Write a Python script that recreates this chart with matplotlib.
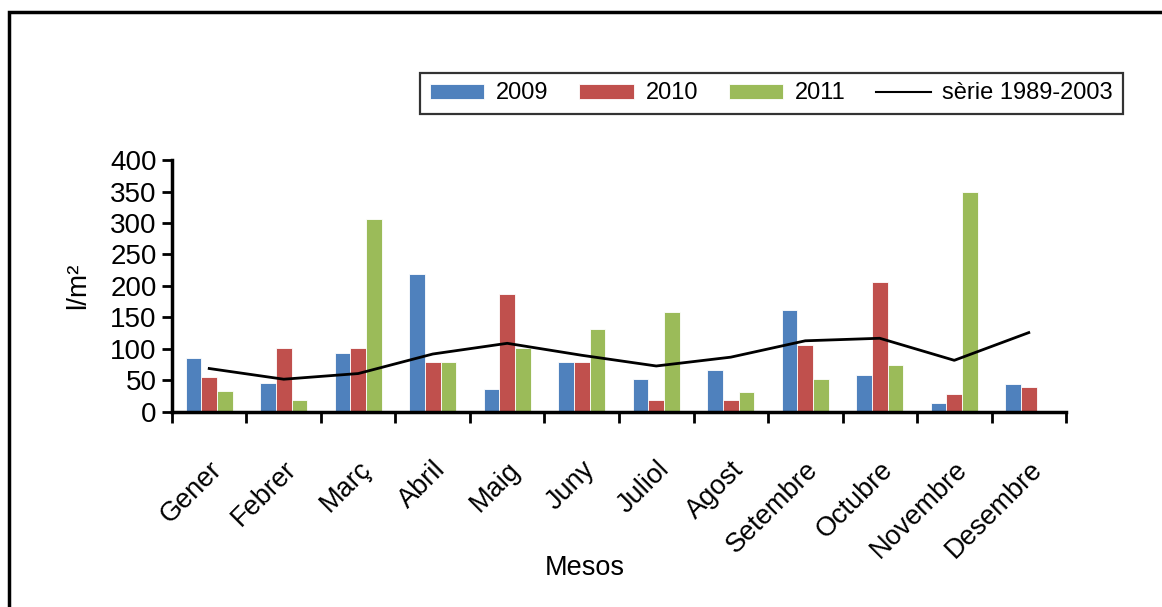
import numpy as np
import matplotlib
matplotlib.use("Agg")
import matplotlib.pyplot as plt
from matplotlib.patches import Rectangle

plt.rcParams['font.family'] = ['Liberation Sans Narrow', 'Liberation Sans', 'DejaVu Sans']

## data (l/m2 per month)
mesos = ["Gener", "Febrer", "Març", "Abril", "Maig", "Juny", "Juliol",
         "Agost", "Setembre", "Octubre", "Novembre", "Desembre"]
pluja_2009 = [85, 46, 93, 219, 36, 80, 53, 66, 162, 58, 14, 45]
pluja_2010 = [55, 101, 101, 80, 188, 80, 19, 19, 106, 206, 28, 40]
pluja_2011 = [33, 19, 306, 80, 101, 132, 158, 31, 53, 75, 350, np.nan]
serie_1989_2003 = [69, 52, 61, 92, 109, 90, 73, 87, 113, 117, 82, 126]
y_ticks = [0, 50, 100, 150, 200, 250, 300, 350, 400]


def plot_pluja():
    """
    Grouped bars per month with the long term mean as a line
    """
    fig = plt.figure(figsize=(11.62, 6.07), dpi=100)
    ax = fig.add_axes([0.148, 0.3213, 0.7694, 0.4151])

    x = np.arange(len(mesos))
    w = 0.21
    edge = dict(edgecolor='white', linewidth=0.6)
    ax.bar(x - w, pluja_2009, w, color='#4F81BD', label='2009', **edge)
    ax.bar(x, pluja_2010, w, color='#C0504D', label='2010', **edge)
    ax.bar(x + w, pluja_2011, w, color='#9BBB59', label='2011', **edge)
    ax.plot(x, serie_1989_2003, color='black', lw=2.0, label='sèrie 1989-2003')

    ax.set_xlim(-0.5, len(mesos) - 0.5)
    ax.set_ylim(0, 400)
    ax.set_yticks(y_ticks)
    ax.tick_params(axis='y', labelsize=20, length=7, width=2, direction='out', pad=4)

    # labels at month centres, tick marks at the boundaries
    ax.set_xticks(x)
    ax.set_xticklabels(mesos, rotation=45, ha='right', va='top',
                       rotation_mode='anchor', fontsize=19.5)
    ax.tick_params(axis='x', which='major', length=0, pad=32)
    ax.set_xticks(np.arange(len(mesos) + 1) - 0.5, minor=True)
    ax.tick_params(axis='x', which='minor', length=8, width=2, direction='out')

    for side in ['top', 'right']:
        ax.spines[side].set_visible(False)
    for side in ['left', 'bottom']:
        ax.spines[side].set_linewidth(2.5)

    ax.set_ylabel("l/m²", fontsize=20, labelpad=14)
    ax.set_xlabel("Mesos", fontsize=19.5)
    ax.xaxis.set_label_coords(0.462, -0.567)

    ## bars first, line last in the legend
    handles, labels = ax.get_legend_handles_labels()
    order = [1, 2, 3, 0]
    leg = fig.legend([handles[i] for i in order], [labels[i] for i in order],
                     loc='center', bbox_to_anchor=(0.664, 0.846), ncol=4,
                     fontsize=17, frameon=True, fancybox=False,
                     handlelength=2.3, handleheight=0.6, columnspacing=1.3,
                     handletextpad=0.5, borderpad=0.42)
    leg.get_frame().set_edgecolor('black')
    leg.get_frame().set_linewidth(1.6)
    leg.get_lines()[0].set_linewidth(1.5)

    # outer frame, only left and top edges fall inside the picture
    fig.add_artist(Rectangle((9 / 1162, -0.2), 1.2, 1.2 - 12 / 607,
                             transform=fig.transFigure, fill=False,
                             edgecolor='black', linewidth=2.5))

    fig.savefig("out.png", dpi=100)


if __name__ == "__main__":
    plot_pluja()
